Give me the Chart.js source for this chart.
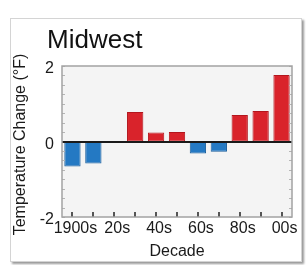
<!DOCTYPE html>
<html><head><meta charset="utf-8">
<script src="https://cdn.jsdelivr.net/npm/chart.js@4"></script>
<style>
html,body{margin:0;padding:0;background:#fff;width:308px;height:265px;overflow:hidden}
#card{position:absolute;left:10px;top:18px;width:290px;height:242px;border:1px solid #d4d4d4;box-shadow:2px 2px 2px #9a9a9a;background:#fff}
canvas{position:absolute;left:0;top:0}
</style></head><body>
<div id="card"></div>
<canvas id="c" width="308" height="265"></canvas>
<script>
const TITLE = 'Midwest';
const Y_TITLE = 'Temperature Change (°F)';
const X_TITLE = 'Decade';
const decades = ['1900s','10s','20s','30s','40s','50s','60s','70s','80s','90s','00s'];
const shownLabels = ['1900s','20s','40s','60s','80s','00s'];
const changes = [-0.66,-0.58,-0.02,0.78,0.24,0.25,-0.32,-0.27,0.70,0.81,1.76];
const yLabels = [-2,0,2];

const FONT = "'Liberation Sans', Arial, sans-serif";
const RED = '#d9232b', RED_B = '#b3161d';
const BLUE = '#2479c3', BLUE_B = '#1b5f9c';

const framePlugin = {
  id: 'frame',
  beforeDraw(chart) {
    const {ctx, chartArea: a} = chart;
    ctx.save();
    ctx.fillStyle = '#f4f4f4';
    ctx.fillRect(a.left, a.top, a.right - a.left, a.bottom - a.top);
    ctx.restore();
  },
  afterDatasetsDraw(chart) {
    const {ctx, chartArea: a, scales} = chart;
    const y = scales.y, x = scales.x;
    ctx.save();
    ctx.strokeStyle = '#b5b5b5';
    ctx.lineWidth = 1;
    y.ticks.forEach(t => {
      const py = Math.round(y.getPixelForValue(t.value)) + 0.5;
      ctx.beginPath();
      ctx.moveTo(a.left, py); ctx.lineTo(a.left + 3, py);
      ctx.moveTo(a.right, py); ctx.lineTo(a.right - 3, py);
      ctx.stroke();
    });
    ctx.strokeStyle = '#555';
    ctx.lineWidth = 2;
    decades.forEach((d, i) => {
      const px = Math.round(x.getPixelForValue(i));
      ctx.beginPath();
      ctx.moveTo(px, a.bottom); ctx.lineTo(px, a.bottom - 5);
      ctx.stroke();
    });
    const z = Math.round(y.getPixelForValue(0));
    ctx.strokeStyle = '#1a1a1a';
    ctx.lineWidth = 2;
    ctx.beginPath();
    ctx.moveTo(a.left, z); ctx.lineTo(a.right, z);
    ctx.stroke();
    ctx.strokeStyle = '#a3a3a3';
    ctx.lineWidth = 1.5;
    ctx.strokeRect(a.left, a.top, a.right - a.left, a.bottom - a.top);
    ctx.restore();
  },
  afterDraw(chart) {
    const {ctx, chartArea: a} = chart;
    ctx.save();
    ctx.fillStyle = '#111';
    ctx.font = '26px ' + FONT;
    ctx.textBaseline = 'alphabetic';
    ctx.textAlign = 'left';
    ctx.fillText(TITLE, a.left - 15, a.top - 18);
    // y-axis title
    ctx.fillStyle = '#1a1a1a';
    ctx.font = '16px ' + FONT;
    ctx.textAlign = 'center';
    ctx.textBaseline = 'middle';
    ctx.translate(a.left - 41, (a.top + a.bottom) / 2 + 3);
    ctx.rotate(-Math.PI / 2);
    ctx.fillText(Y_TITLE, 0, 0);
    ctx.restore();
  }
};

new Chart(document.getElementById('c'), {
  type: 'bar',
  data: {
    labels: decades,
    datasets: [{
      data: changes,
      backgroundColor: changes.map(v => v >= 0 ? RED : BLUE),
      borderColor: changes.map(v => v >= 0 ? RED_B : BLUE_B),
      borderWidth: 1,
      borderSkipped: false,
      barPercentage: 0.78,
      categoryPercentage: 1
    }]
  },
  options: {
    responsive: false,
    animation: false,
    devicePixelRatio: 1,
    layout: {padding: {left: 11, right: 16, top: 66, bottom: 4}},
    plugins: {legend: {display: false}, title: {display: false}, tooltip: {enabled: false}},
    scales: {
      x: {
        offset: true,
        grid: {display: false, drawTicks: false},
        border: {display: false},
        ticks: {
          autoSkip: false, maxRotation: 0, padding: 2, labelOffset: 3,
          color: '#1a1a1a', font: {family: FONT, size: 16},
          callback: (v, i) => shownLabels.includes(decades[i]) ? decades[i] : ''
        },
        title: {display: true, text: X_TITLE, color: '#1a1a1a', font: {family: FONT, size: 16, lineHeight: 1.2}, padding: {top: 0, bottom: 0}},
        afterFit(s) { s.height = 44; }
      },
      y: {
        min: -2, max: 2,
        grid: {display: false, drawTicks: false},
        border: {display: false},
        ticks: {
          stepSize: 0.25, autoSkip: false, padding: 8, labelOffset: 3,
          color: '#1a1a1a', font: {family: FONT, size: 16},
          callback: v => yLabels.includes(v) ? String(v) : ''
        },
        title: {display: false},
        afterFit(s) { s.width = 51; }
      }
    }
  },
  plugins: [framePlugin]
});
</script>
</body></html>
